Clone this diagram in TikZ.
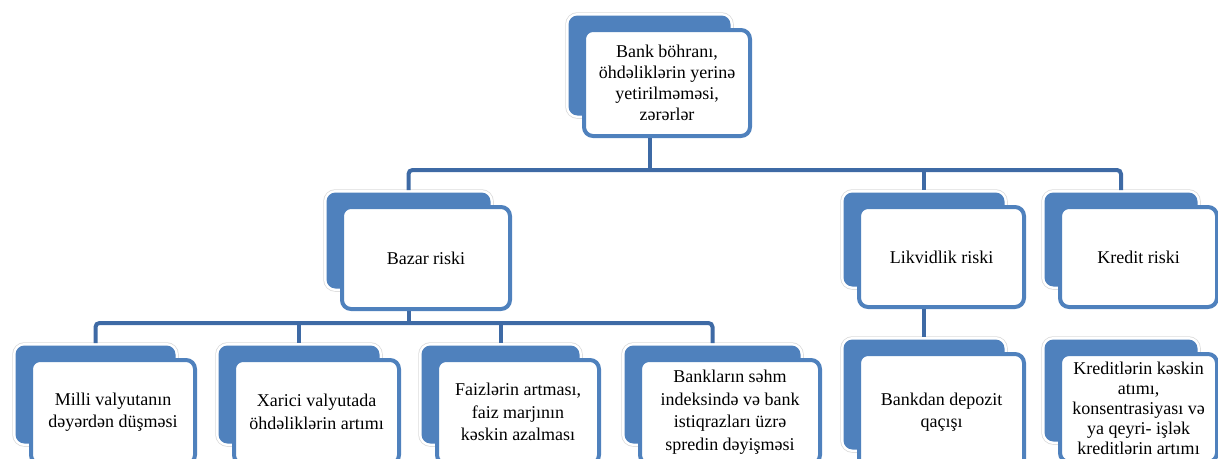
\documentclass[tikz,border=0pt]{standalone}
\usepackage{fontspec}
\setmainfont{Liberation Serif}

\definecolor{boxblue}{RGB}{79,129,189}
\definecolor{linkblue}{RGB}{62,106,165}

\tikzset{
  tab/.style={rectangle, rounded corners=9pt, inner sep=0pt, anchor=north west,
    preaction={draw=black!14, line width=6.5pt},
    draw=white, line width=5pt,
    postaction={fill=boxblue}},
  card/.style={rectangle, rounded corners=9pt, draw=boxblue, line width=4pt,
    fill=white, anchor=north west, align=center, inner sep=2pt,
    font=\fontsize{18}{22.5}\selectfont},
  link/.style={draw=linkblue, line width=4pt, rounded corners=4pt},
}

% back tab + front card, #3/#4 = top left of the card
\newcommand{\riskbox}[7][]{%
  \node[tab, minimum width=#5pt-4pt, minimum height=#6pt-6pt] (#2-tab) at (#3-16,#4-15) {};
  \node[card, minimum width=#5pt, minimum height=#6pt, #1] (#2) at (#3,#4) {#7};
}

\begin{document}
\begin{tikzpicture}[x=1pt,y=-1pt]
\useasboundingbox (0,0) rectangle (1218,458);
\clip (0,0) rectangle (1218,458);

\riskbox[font=\fontsize{18}{21}\selectfont]{crisis}{582}{28}{166}{106}{Bank böhranı,\\ öhdəliklərin yerinə\\ yetirilməməsi,\\ zərərlər}

\riskbox{market}{340}{205}{168}{102}{Bazar riski}
\riskbox{liquidity}{857}{205}{165}{100}{Likvidlik riski}
\riskbox{credit}{1058}{205}{157}{100}{Kredit riski}

\foreach \name/\x/\w/\txt in {
  currency/29/164/{Milli valyutanın\\ dəyərdən düşməsi},
  foreign/232/165/{Xarici valyutada\\ öhdəliklərin artımı},
  interest/435/162/{Faizlərin artması,\\ faiz marjının\\ kəskin azalması},
  spread/638/180/{Bankların səhm\\ indeksində və bank\\ istiqrazları üzrə\\ spredin dəyişməsi}} {
  \riskbox{\name}{\x}{358}{\w}{104}{\txt}
}

\riskbox{deposit}{857}{352}{165}{116}{Bankdan depozit\\ qaçışı}
\riskbox[font=\fontsize{18}{20}\selectfont]{loans}{1058}{352}{157}{108}{Kreditlərin kəskin\\ atımı,\\ konsentrasiyası və\\ ya qeyri- işlək\\ kreditlərin artımı}

\coordinate (bus-top) at (0,170);
\coordinate (bus-market) at (0,323);

% top level
\draw[link] (crisis-tab |- crisis.south) -- (crisis-tab |- bus-top);
\draw[link] (market-tab.north) -- (market-tab |- bus-top) -- (credit-tab |- bus-top) -- (credit-tab.north);
\draw[link] (liquidity-tab |- bus-top) -- (liquidity-tab.north);

% market risk branch
\draw[link] (market-tab |- market.south) -- (market-tab |- bus-market);
\draw[link] (currency-tab.north) -- (currency-tab |- bus-market) -- (spread-tab |- bus-market) -- (spread-tab.north);
\foreach \n in {foreign,interest}
  \draw[link] (\n-tab |- bus-market) -- (\n-tab.north);

% liquidity branch
\draw[link] (liquidity-tab |- liquidity.south) -- (deposit-tab.north);
\end{tikzpicture}
\end{document}
